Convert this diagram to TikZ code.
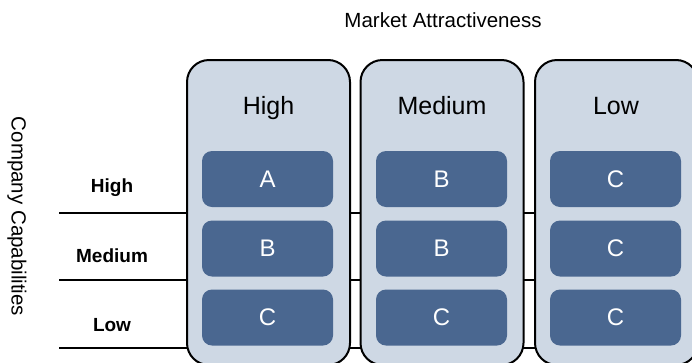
\documentclass[tikz,border=0pt]{standalone}
\usepackage{fontspec}
\setmainfont{Liberation Sans}
\definecolor{colfill}{RGB}{206,216,228}
\definecolor{cellfill}{RGB}{74,103,144}
\begin{document}
\begin{tikzpicture}[x=1pt,y=-1pt,
  colbox/.style={draw=black,line width=2pt,fill=colfill,rounded corners=22pt,
    minimum width=163pt,minimum height=305pt,inner sep=0pt,outer sep=0pt},
  cell/.style={fill=cellfill,rounded corners=10pt,minimum width=131pt,
    minimum height=56pt,inner sep=0pt,text=white,font=\fontsize{24}{28}\selectfont},
  head/.style={font=\fontsize{25}{30}\selectfont,anchor=base,inner sep=0pt},
  rowlab/.style={font=\bfseries\fontsize{19}{23}\selectfont,anchor=base,inner sep=0pt},
  axislab/.style={font=\fontsize{20.5}{24}\selectfont,inner sep=0pt},
  sepline/.style={line width=1.6pt,draw=black}]
\useasboundingbox (0,0) rectangle (692,362);
% separator lines
\coordinate (l1a) at (59,213); \coordinate (l1b) at (692,213);
\coordinate (l2a) at (59,280); \coordinate (l2b) at (692,280);
\coordinate (l3a) at (59,348); \coordinate (l3b) at (692,348);
\draw[sepline] (l1a) -- (l1b);
\draw[sepline] (l2a) -- (l2b);
\draw[sepline] (l3a) -- (l3b);
% columns
\node[colbox] (c1) at (268.5,212.5) {};
\node[colbox] (c2) at (442,212.5) {};
\node[colbox] (c3) at (616.5,212.5) {};
% headers
\node[head] (h1) at (268.5,114) {High};
\node[head] (h2) at (442,114) {Medium};
\node[head] (h3) at (616,114) {Low};
% cells
\node[cell] (a11) at (267.5,179) {A};
\node[cell] (a21) at (267.5,248.5) {B};
\node[cell] (a31) at (267.5,317.5) {C};
\node[cell] (a12) at (441.5,179) {B};
\node[cell] (a22) at (441.5,248.5) {B};
\node[cell] (a32) at (441.5,317.5) {C};
\node[cell] (a13) at (615.5,179) {C};
\node[cell] (a23) at (615.5,248.5) {C};
\node[cell] (a33) at (615.5,317.5) {C};
% row labels
\node[rowlab] (r1) at (112,192) {High};
\node[rowlab] (r2) at (112,262) {Medium};
\node[rowlab] (r3) at (112,331) {Low};
% axis labels
\node[axislab,anchor=base] (mt) at (443,27) {Market Attractiveness};
\node[axislab,rotate=-90] (cc) at (17,216.5) {Company Capabilities};
\end{tikzpicture}
\end{document}
